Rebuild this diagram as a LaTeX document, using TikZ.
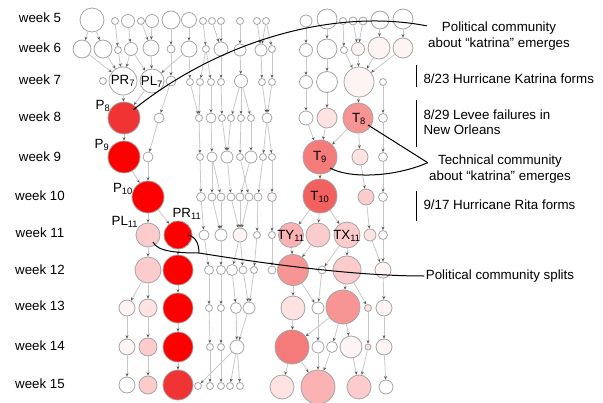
\documentclass[tikz,border=0pt]{standalone}
\usepackage{fontspec}
\setmainfont{Liberation Sans}
\usetikzlibrary{arrows.meta,calc}

\definecolor{c0}{RGB}{255,255,255}
\definecolor{c1}{RGB}{255,244,244}
\definecolor{c2}{RGB}{255,226,226}
\definecolor{c3}{RGB}{252,204,204}
\definecolor{c4}{RGB}{250,178,178}
\definecolor{c5}{RGB}{247,148,148}
\definecolor{c6}{RGB}{245,122,122}
\definecolor{c7}{RGB}{243,96,96}
\definecolor{c8}{RGB}{240,52,52}
\definecolor{c9}{RGB}{255,0,0}

\tikzset{every picture/.style={line width=0.75pt}}

\begin{document}
\begin{tikzpicture}[x=0.75pt,y=0.75pt,yscale=-1,xscale=1,
  comm/.style={circle,draw={rgb,255:red,165;green,165;blue,165},line width=0.6pt,inner sep=0pt},
  link/.style={draw={rgb,255:red,200;green,200;blue,200},line width=0.6pt,-{Stealth[length=2.6pt,width=2.2pt,color=black!65]}},
  note/.style={black,line width=0.75pt},
  txt/.style={inner sep=0.75pt,font=\fontsize{10}{11.5}\selectfont}]
\useasboundingbox (0,0) rectangle (603,403);

% week labels
\foreach \w/\y in {5/18,6/48,7/80,8/117,9/157,10/196,11/233,12/270,13/306,14/346,15/384}
  \node[txt] (w\w) at (40,\y) {week \w};

% communities, week 5 to 8
\foreach \nm/\x/\y/\rr/\cl in {a5/92/20/12/c0,b5/115/21/3.5/c0,c5/128/21/6.5/c0,d5/141/21/3.5/c0,e5/152/21/6.5/c0,f5/171/20/9/c0,g5/189/20/7.5/c0,h5/203/21/3.5/c0,i5/212/21/3.5/c0,j5/221/21/3.5/c0,k5/240/21/3.5/c0,l5/257/21/3.5/c0,m5/266/21/3.5/c0,n5/306/21/6/c0,o5/327/19/10/c0,p5/343/21/3.5/c0,q5/353/21/4/c0,r5/363/21/4/c0,s5/380/20/9/c0,t5/403/19/10/c0,
  a6/82/49/9/c0,b6/103/49/9/c0,c6/118/50/3.5/c0,d6/131/49/6.5/c0,e6/151/48/8/c0,f6/171/49/4/c0,g6/189/49/8/c0,h6/206/49/3.5/c0,i6/221/49/7/c0,j6/240/50/6/c0,k6/261/50/6/c0,l6/272/49/3.5/c0,m6/306/50/6.5/c0,n6/327/49/10/c0,o6/344/50/3.5/c0,p6/358/49/6.5/c1,q6/379/48/11/c1,r6/403/48/10/c1,
  a7/103/81/3.5/c0,PR7/123/81/14/c0,PL7/152/81/12/c0,d7/171/81/5/c0,e7/190/82/3.5/c0,f7/200/82/3.5/c0,g7/211/82/3.5/c0,h7/221/82/3.5/c0,i7/241/81/6.5/c0,j7/262/82/3.5/c0,k7/272/82/3.5/c0,l7/306/82/6.5/c0,m7/327/82/10.5/c0,n7/359/82/15/c1,o7/383/82/3.5/c0,
  P8/124/118/16/c8,b8/159/118/5/c0,c8/199/118/3.5/c0,d8/211/118/5/c0,e8/222/118/3.5/c0,f8/231/118/3.5/c0,g8/241/118/3.5/c0,h8/251/118/3.5/c0,i8/267/118/5/c0,j8/306/118/7/c0,k8/327/118/10/c2,T8/358/118/15/c5,m8/383/118/4.5/c0}
  \node[comm,minimum size={1.5pt*\rr},fill=\cl] (\nm) at (\x,\y) {};

% communities, week 9 to 12
\foreach \nm/\x/\y/\rr/\cl in {P9/124/157/16/c9,b9/148/157/5/c0,c9/200/157/3.5/c0,d9/212/157/5/c0,e9/227/157/6/c0,f9/240/157/3.5/c0,g9/251/157/6/c0,h9/263/157/3.5/c0,i9/272/157/3.5/c0,T9/320/157/17/c6,k9/360/157/8/c2,l9/383/157/4.5/c0,
  P10/148/197/16/c9,b10/201/197/4.5/c0,c10/212/197/4/c0,d10/221/197/4/c0,e10/231/197/4/c0,f10/240/197/4/c0,g10/249/197/4/c0,h10/258/197/4/c0,i10/272/197/4.5/c1,T10/320/196/17/c7,k10/366/197/8/c3,l10/383/197/4.5/c0,
  PL11/148/235/12/c3,PR11/178/235/14/c9,c11/204/235/5/c0,d11/221/235/6/c0,e11/240/235/7/c1,f11/257/235/3.5/c0,g11/272/235/3.5/c0,TY11/291/235/12.5/c4,i11/318/235/12/c3,TX11/347/235/13/c3,k11/370/235/6/c2,l11/383/235/4.5/c0,
  PL12/148/270/13/c3,PR12/178/270/15/c9,c12/209/270/4.5/c0,d12/221/270/4.5/c0,e12/232/270/5.5/c0,f12/243/270/4/c0,g12/254/270/3.5/c0,h12/272/270/4/c0,i12/293/270/15.5/c5,j12/322/270/4/c0,k12/347/270/14/c3,l12/383/270/8/c1}
  \node[comm,minimum size={1.5pt*\rr},fill=\cl] (\nm) at (\x,\y) {};

% communities, week 13 to 15
\foreach \nm/\x/\y/\rr/\cl in {a13/127/308/8/c1,b13/148/308/9/c2,PR13/178/308/15/c9,d13/209/308/3.5/c0,e13/221/308/3.5/c0,f13/236/308/5.5/c0,g13/249/308/6/c0,h13/293/308/12/c2,i13/318/308/6/c0,j13/343/307/17/c5,k13/368/308/3.5/c2,l13/384/308/8/c1,
  a14/127/347/8/c1,b14/148/347/9/c3,PR14/178/347/15/c9,d14/210/347/3.5/c0,e14/221/347/3.5/c0,f14/237/347/7/c0,h14/292/347/17/c6,i14/318/347/6/c0,j14/332/347/5.5/c0,k14/351/347/11/c1,l14/368/347/3/c2,m14/384/347/8/c1,
  a15/127/385/8/c0,b15/148/385/9/c3,PR15/178/385/15/c8,d15/198/386/3.5/c0,e15/210/386/3.5/c0,f15/221/386/3.5/c0,g15/230/386/3.5/c0,h15/240/386/3.5/c0,i15/282/387/12/c2,j15/318/387/17/c4,k15/359/387/12/c3,l15/386/387/7/c0}
  \node[comm,minimum size={1.5pt*\rr},fill=\cl] (\nm) at (\x,\y) {};

% evolution links
\foreach \a/\b in {a5/a6,a5/b6,b5/c6,c5/d6,d5/e6,e5/e6,f5/f6,g5/g6,h5/h6,i5/i6,j5/i6,k5/j6,l5/k6,m5/k6,m5/l6,n5/m6,o5/n6,p5/o6,q5/p6,r5/p6,s5/q6,t5/r6,
  a6/PR7,b6/PR7,c6/PR7,d6/PR7,d6/PL7,e6/PL7,g6/PL7,f6/d7,g6/e7,h6/f7,h6/g7,i6/h7,j6/i7,k6/j7,l6/k7,m6/l7,n6/m7,o6/n7,p6/n7,q6/n7,r6/n7,
  PR7/P8,PL7/P8,d7/b8,e7/c8,f7/c8,g7/d8,h7/e8,i7/f8,i7/g8,i7/h8,j7/i8,k7/i8,l7/j8,m7/k8,n7/T8,o7/m8,
  P8/P9,b8/b9,c8/c9,d8/d9,e8/e9,f8/e9,g8/f9,h8/g9,i8/h9,i8/i9,j8/T9,k8/T9,T8/T9,T8/k9,m8/l9,
  P9/P10,b9/P10,c9/b10,d9/c10,d9/d10,e9/e10,f9/g10,g9/f10,h9/h10,i9/i10,T9/T10,k9/k10,l9/l10,
  P10/PL11,P10/PR11,b10/c11,c10/d11,d10/d11,e10/e11,f10/e11,g10/e11,h10/f11,i10/g11,T10/TY11,T10/i11,T10/TX11,k10/k11,l10/l11,
  PL11/PL12,PR11/PR12,c11/c12,d11/d12,e11/e12,e11/f12,f11/g12,g11/h12,TY11/i12,i11/i12,TX11/j12,TX11/k12,k11/l12,l11/l12,
  PL12/a13,PL12/b13,PR12/PR13,c12/d13,d12/e13,e12/f13,f12/g13,g12/g13,i12/h13,i12/i13,j12/i13,k12/j13,k12/k13,l12/l13,
  a13/a14,b13/b14,PR13/PR14,d13/d14,e13/e14,f13/f14,g13/f14,h13/h14,i13/i14,j13/h14,j13/j14,j13/k14,k13/l14,l13/m14,
  a14/a15,b14/b15,PR14/PR15,f14/d15,d14/e15,e14/f15,f14/g15,f14/h15,h14/i15,h14/j15,i14/j15,j14/j15,k14/k15,l14/k15,m14/l15}
  \draw[link] (\a) -- (\b);

% community names
\node[txt] (PR7t) at (123,81) {PR\textsubscript{7}};
\node[txt] (PL7t) at (152,82) {PL\textsubscript{7}};
\node[txt] (P8t) at (103,106) {P\textsubscript{8}};
\node[txt] (P9t) at (102,145) {P\textsubscript{9}};
\node[txt] (P10t) at (123,189) {P\textsubscript{10}};
\node[txt] (PL11t) at (125,222) {PL\textsubscript{11}};
\node[txt] (PR11t) at (187,214) {PR\textsubscript{11}};
\node[txt] (T8t) at (359,119) {T\textsubscript{8}};
\node[txt] (T9t) at (320,157) {T\textsubscript{9}};
\node[txt] (T10t) at (320,197) {T\textsubscript{10}};
\node[txt] (TY11t) at (291,236) {TY\textsubscript{11}};
\node[txt] (TX11t) at (347,236) {TX\textsubscript{11}};

% annotations
\node[txt,align=center] (pol) at (499,36) {Political community\\about “katrina” emerges};
\node[txt,align=center] (tech) at (500,169) {Technical community\\about “katrina” emerges};
\node[txt] (split) at (500,276) {Political community splits};
\node[txt,anchor=west] (ev1) at (422,79) {8/23 Hurricane Katrina forms};
\node[txt,anchor=west,align=left] (ev2) at (422,122) {8/29 Levee failures in\\New Orleans};
\node[txt,anchor=west] (ev3) at (422,205) {9/17 Hurricane Rita forms};

% event bars
\draw[note] (416,65) -- (416,87);
\draw[note] (416,100) -- (416,147);
\draw[note] (416,191) -- (416,221);

% pointers
\draw[note] ($(P8)+(9,-8)$) .. controls (220,40) and (335,8) .. (pol.172);
\draw[note] ($(T8)+(10,7)$) -- (tech.175);
\draw[note] ($(T9)+(10,11)$) .. controls (350,179) and (395,177) .. (tech.175);
\coordinate (fork) at (199,253);
\draw[note] ($(PL11)+(5,7)$) .. controls (157,252) and (180,253) .. (fork) .. controls (280,266) and (360,276) .. (split.west);
\draw[note] ($(PR11)+(10,0)$) .. controls (197,237) and (199,246) .. (fork);

\end{tikzpicture}
\end{document}
